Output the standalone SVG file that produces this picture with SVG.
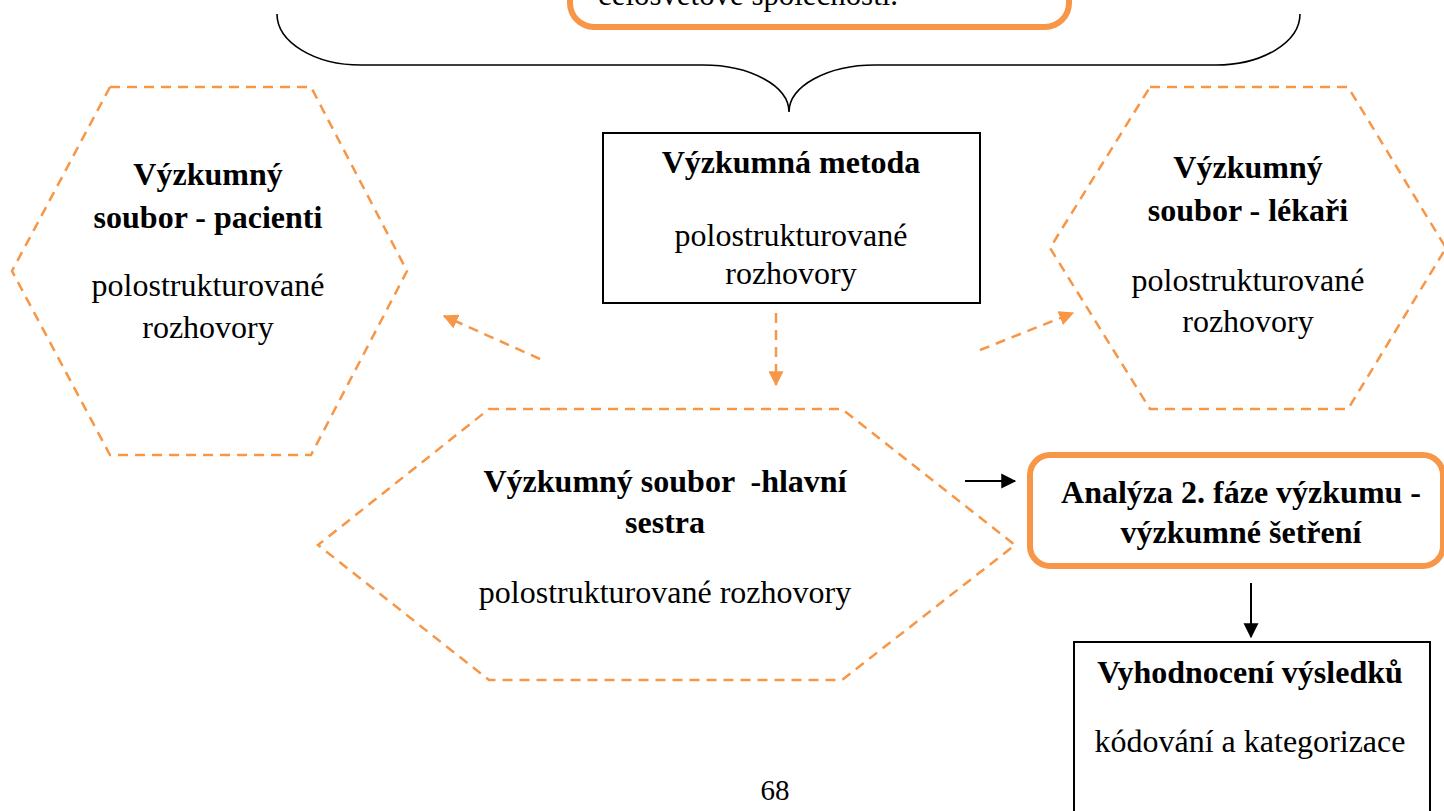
<svg xmlns="http://www.w3.org/2000/svg" width="1444" height="811" viewBox="0 0 1444 811">
  <defs>
    <style>
      .txt { font-family: "Liberation Serif", "Times New Roman", serif; font-size: 32px; fill: #000; text-anchor: middle; }
      .b { font-weight: bold; }
      .hex { fill: none; stroke: #F79646; stroke-width: 2.5; stroke-dasharray: 10 7; }
      .obox { fill: #fff; stroke: #F79646; stroke-width: 6; }
      .kbox { fill: #fff; stroke: #000; stroke-width: 2; }
      .odash { fill: none; stroke: #F79646; stroke-width: 2.5; stroke-dasharray: 10 7; }
      .kline { fill: none; stroke: #000; stroke-width: 2; }
    </style>
    <marker id="headOrange" viewBox="0 0 12 12" refX="11" refY="6" markerWidth="6" markerHeight="6" markerUnits="strokeWidth" orient="auto">
      <path d="M0,0 L12,6 L0,12 Z" fill="#F79646"/>
    </marker>
    <marker id="headBlack" viewBox="0 0 12 12" refX="11" refY="6" markerWidth="7.5" markerHeight="8" markerUnits="strokeWidth" orient="auto">
      <path d="M0,0 L12,6 L0,12 Z" fill="#000"/>
    </marker>
  </defs>

  <rect width="1444" height="811" fill="#fff"/>

  <!-- top box (continues above the page edge) -->
  <g id="node-top">
    <rect class="obox" x="570" y="-60" width="499" height="87" rx="24"/>
    <text class="txt" x="598" y="5" style="text-anchor:start" textLength="300" lengthAdjust="spacingAndGlyphs">celosvětové společnosti.</text>
  </g>

  <!-- curly brace grouping the top box -->
  <g id="brace">
    <path d="M277,14 A84,51 0 0 0 361,65 L703,65 A86,47 0 0 1 789,112 A86,47 0 0 1 875,65 L1216,65 A84,51 0 0 0 1300,14" fill="none" stroke="#000" stroke-width="1.6"/>
  </g>

  <g id="node-metoda">
    <rect class="kbox" x="603" y="133" width="377" height="170"/>
    <text class="txt b" x="791" y="173">Výzkumná metoda</text>
    <text class="txt" x="791" y="246">polostrukturované</text>
    <text class="txt" x="791" y="284">rozhovory</text>
  </g>

  <g id="node-pacienti">
    <polygon class="hex" points="110,87 311,87 407,271 311,455 110,455 12,271"/>
    <text class="txt b" x="208" y="185">Výzkumný</text>
    <text class="txt b" x="208" y="228">soubor - pacienti</text>
    <text class="txt" x="208" y="296">polostrukturované</text>
    <text class="txt" x="208" y="338">rozhovory</text>
  </g>

  <g id="node-lekari">
    <polygon class="hex" points="1150,87 1348,87 1446,248 1348,409 1150,409 1050,248"/>
    <text class="txt b" x="1248" y="178">Výzkumný</text>
    <text class="txt b" x="1248" y="221">soubor - lékaři</text>
    <text class="txt" x="1248" y="291">polostrukturované</text>
    <text class="txt" x="1248" y="332">rozhovory</text>
  </g>

  <g id="node-sestra">
    <polygon class="hex" points="489,409 842,409 1015,545 842,680 489,680 318,545"/>
    <text class="txt b" x="665" y="492" xml:space="preserve">Výzkumný soubor  -hlavní</text>
    <text class="txt b" x="665" y="533">sestra</text>
    <text class="txt" x="665" y="603">polostrukturované rozhovory</text>
  </g>

  <g id="node-analyza">
    <rect class="obox" x="1030" y="455" width="413" height="111" rx="20"/>
    <text class="txt b" x="1241" y="503">Analýza 2. fáze výzkumu -</text>
    <text class="txt b" x="1241" y="543">výzkumné šetření</text>
  </g>

  <g id="node-vyhodnoceni">
    <rect class="kbox" x="1074" y="642" width="356" height="200"/>
    <text class="txt b" x="1250" y="683">Vyhodnocení výsledků</text>
    <text class="txt" x="1250" y="752">kódování a kategorizace</text>
  </g>

  <g id="connectors">
    <line class="odash" x1="776" y1="313" x2="776" y2="385" marker-end="url(#headOrange)"/>
    <line class="odash" x1="540" y1="359" x2="444" y2="316" marker-end="url(#headOrange)"/>
    <line class="odash" x1="980" y1="350" x2="1073" y2="313" marker-end="url(#headOrange)"/>
    <line class="kline" x1="965" y1="481" x2="1015" y2="481" marker-end="url(#headBlack)"/>
    <line class="kline" x1="1251" y1="583" x2="1251" y2="637" marker-end="url(#headBlack)"/>
  </g>

  <text class="txt" x="775" y="800" style="font-size:29px">68</text>
</svg>
